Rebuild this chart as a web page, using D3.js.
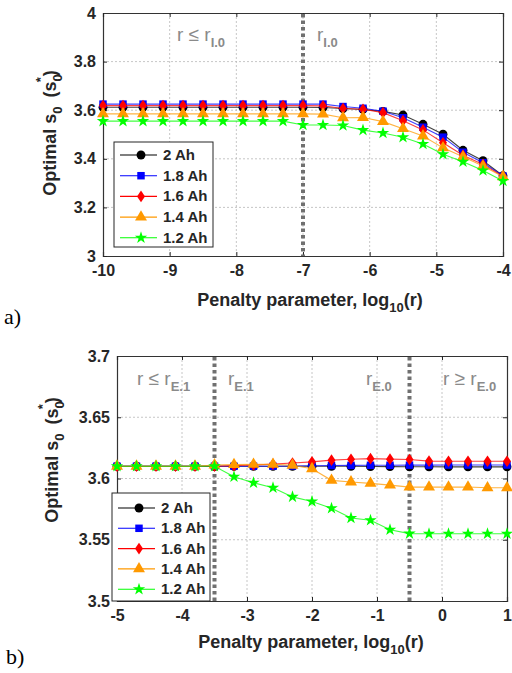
<!DOCTYPE html>
<html><head><meta charset="utf-8">
<script src="https://cdn.jsdelivr.net/npm/d3@7"></script>
<style>
body{margin:0;background:#fff;}
svg{display:block;font-family:"Liberation Sans",Arial,sans-serif;}
</style></head>
<body>
<svg id="c" width="512" height="673"></svg>
<script>
// ---------- DATA ----------
const seriesNames = ["2 Ah","1.8 Ah","1.6 Ah","1.4 Ah","1.2 Ah"];
const seriesColors = ["#000000","#0000ff","#ff0000","#ff9900","#00ff00"];

// Panel a: x = log10(r) from -10 to -4, step 0.3
const xA = [-10,-9.7,-9.4,-9.1,-8.8,-8.5,-8.2,-7.9,-7.6,-7.3,-7,-6.7,-6.4,-6.1,-5.8,-5.5,-5.2,-4.9,-4.6,-4.3,-4];
const a_2Ah  = [3.612,3.612,3.612,3.612,3.612,3.612,3.612,3.612,3.612,3.612,3.612,3.611,3.607,3.603,3.595,3.58,3.542,3.501,3.435,3.392,3.33];
const a_18Ah = [3.625,3.625,3.625,3.625,3.625,3.625,3.625,3.625,3.625,3.625,3.625,3.625,3.615,3.608,3.596,3.569,3.53,3.489,3.427,3.384,3.329];
const a_16Ah = [3.619,3.619,3.619,3.619,3.619,3.619,3.619,3.619,3.619,3.619,3.619,3.618,3.607,3.604,3.59,3.557,3.519,3.466,3.415,3.377,3.328];
const a_14Ah = [3.585,3.585,3.585,3.585,3.585,3.585,3.585,3.585,3.585,3.585,3.585,3.584,3.569,3.57,3.553,3.524,3.494,3.445,3.408,3.37,3.326];
const a_12Ah = [3.555,3.555,3.555,3.555,3.555,3.555,3.555,3.555,3.555,3.555,3.539,3.539,3.537,3.518,3.506,3.489,3.461,3.419,3.388,3.352,3.309];

// Panel b: x = log10(r) from -5 to 1, step 0.3
const xB = [-5,-4.7,-4.4,-4.1,-3.8,-3.5,-3.2,-2.9,-2.6,-2.3,-2,-1.7,-1.4,-1.1,-0.8,-0.5,-0.2,0.1,0.4,0.7,1];
const b_2Ah  = [3.61,3.61,3.61,3.61,3.61,3.61,3.61,3.61,3.61,3.61,3.61,3.61,3.61,3.6098,3.6097,3.6096,3.6096,3.6095,3.6095,3.6095,3.6095];
const b_18Ah = [3.61,3.61,3.61,3.61,3.61,3.61,3.61,3.61,3.61,3.6102,3.6104,3.6106,3.6107,3.6108,3.6108,3.6109,3.6109,3.611,3.611,3.611,3.611];
const b_16Ah = [3.61,3.61,3.61,3.61,3.61,3.61,3.6105,3.611,3.6117,3.6127,3.6136,3.615,3.6157,3.6162,3.6158,3.6155,3.6142,3.6141,3.6141,3.6141,3.6141];
const b_14Ah = [3.61,3.61,3.61,3.61,3.61,3.611,3.6113,3.6115,3.6116,3.6108,3.608,3.5985,3.5972,3.596,3.5946,3.593,3.593,3.593,3.593,3.5924,3.5924];
const b_12Ah = [3.61,3.61,3.61,3.61,3.61,3.61,3.6014,3.5965,3.5924,3.585,3.5812,3.5757,3.5678,3.5659,3.5582,3.555,3.5549,3.5549,3.5549,3.5549,3.5549];

const ticksXA = [-10,-9,-8,-7,-6,-5,-4];
const ticksYA = [3,3.2,3.4,3.6,3.8,4];
const tickLabelsXA = ["-10","-9","-8","-7","-6","-5","-4"];
const tickLabelsYA = ["3","3.2","3.4","3.6","3.8","4"];
const ticksXB = [-5,-4,-3,-2,-1,0,1];
const ticksYB = [3.5,3.55,3.6,3.65,3.7];
const tickLabelsXB = ["-5","-4","-3","-2","-1","0","1"];
const tickLabelsYB = ["3.5","3.55","3.6","3.65","3.7"];

const svg = d3.select("#c");
const markerTypes = ["circle","square","diamond","triangle","star"];

function markerPath(type){
  if(type==="circle") return d3.symbol(d3.symbolCircle, 62)();
  if(type==="square") return d3.symbol(d3.symbolSquare, 56)();
  if(type==="triangle") return d3.symbol(d3.symbolTriangle, 62)();
  if(type==="star") return d3.symbol(d3.symbolStar, 48)();
  if(type==="diamond") return "M0,-5.8L4,0L0,5.8L-4,0Z";
}

function panel(cfg){
  const g = svg.append("g");
  const x = d3.scaleLinear().domain(cfg.xDomain).range([cfg.left, cfg.right]);
  const y = d3.scaleLinear().domain(cfg.yDomain).range([cfg.bottom, cfg.top]);

  // grid
  g.append("g").selectAll("line.gx").data(cfg.xTicks.slice(1,-1)).join("line")
    .attr("x1",d=>x(d)).attr("x2",d=>x(d)).attr("y1",cfg.top).attr("y2",cfg.bottom)
    .attr("stroke","#b8b8b8").attr("stroke-width",0.8).attr("stroke-dasharray","2 2");
  g.append("g").selectAll("line.gy").data(cfg.yTicks.slice(1,-1)).join("line")
    .attr("y1",d=>y(d)).attr("y2",d=>y(d)).attr("x1",cfg.left).attr("x2",cfg.right)
    .attr("stroke","#b8b8b8").attr("stroke-width",0.8).attr("stroke-dasharray","2 2");

  // axes (ticks inside)
  const axB = d3.axisBottom(x).tickValues(cfg.xTicks).tickSize(-4).tickPadding(9).tickFormat((d,i)=>cfg.xLabels[i]);
  const axL = d3.axisLeft(y).tickValues(cfg.yTicks).tickSize(-4).tickPadding(7).tickFormat((d,i)=>cfg.yLabels[i]);
  const axT = d3.axisTop(x).tickValues(cfg.xTicks).tickSize(-4).tickFormat("");
  const axR = d3.axisRight(y).tickValues(cfg.yTicks).tickSize(-4).tickFormat("");
  [[axB,`translate(0,${cfg.bottom})`],[axL,`translate(${cfg.left},0)`],[axT,`translate(0,${cfg.top})`],[axR,`translate(${cfg.right},0)`]].forEach(([ax,t])=>{
    const a = g.append("g").attr("transform",t).call(ax);
    a.selectAll("path,line").attr("stroke","#262626");
    a.select("path.domain").attr("stroke","#333").attr("stroke-width",1.2);
    a.selectAll("text").attr("fill","#262626").attr("font-size","16px").attr("font-weight","bold")
      .attr("font-family","'Liberation Sans',Arial,sans-serif");
  });

  // region divider lines
  cfg.vlines.forEach(v=>{
    g.append("line").attr("x1",x(v)).attr("x2",x(v)).attr("y1",cfg.top+1).attr("y2",cfg.bottom)
      .attr("stroke","#707070").attr("stroke-width",4).attr("stroke-dasharray","3.5 3");
  });

  // region labels
  cfg.regionLabels.forEach(r=>{
    const t = g.append("text").attr("x",r.x).attr("y",r.y).attr("fill","#8a8a8a")
      .attr("font-size","19px");
    t.append("tspan").text(r.main);
    t.append("tspan").attr("dy",6).attr("font-size","13px").attr("font-weight","bold").text(r.sub);
  });

  // series
  const line = d3.line().x(d=>x(d[0])).y(d=>y(d[1]));
  cfg.series.forEach((vals,i)=>{
    const pts = cfg.xs.map((xv,j)=>[xv,vals[j]]);
    g.append("path").datum(pts).attr("d",line).attr("fill","none")
      .attr("stroke",seriesColors[i]).attr("stroke-width",1.1).attr("stroke-opacity",0.75);
    g.append("g").selectAll("path").data(pts).join("path")
      .attr("transform",d=>`translate(${x(d[0])},${y(d[1])})`)
      .attr("d",markerPath(markerTypes[i])).attr("fill",seriesColors[i]);
  });

  // axis titles
  const xt = g.append("text").attr("x",cfg.xTitleX).attr("y",cfg.xTitleY)
    .attr("text-anchor","middle").attr("fill","#262626").attr("font-size","18px").attr("font-weight","bold");
  xt.append("tspan").text("Penalty parameter, log");
  xt.append("tspan").attr("dy",6).attr("font-size","13px").text("10");
  xt.append("tspan").attr("dy",-6).text("(r)");

  const yt = g.append("text").attr("transform",`translate(${cfg.yTitleX},${cfg.yTitleY}) rotate(-90)`)
    .attr("text-anchor","middle").attr("fill","#262626").attr("font-size","18px").attr("font-weight","bold");
  yt.append("tspan").text("Optimal s");
  yt.append("tspan").attr("dy",6).attr("font-size","13px").text("0");
  yt.append("tspan").attr("dy",-6).attr("dx",9).text("(s");
  yt.append("tspan").attr("dy",6).attr("font-size","13px").text("0");
  yt.append("tspan").attr("dy",-17).attr("dx",-8).attr("font-size","13px").text("*");
  yt.append("tspan").attr("dy",11).attr("dx",1).text(")");

  // legend
  const L = cfg.legend;
  const lg = g.append("g");
  lg.append("rect").attr("x",L.x).attr("y",L.y).attr("width",L.w).attr("height",L.h)
    .attr("fill","#fff").attr("stroke","#262626").attr("stroke-width",1);
  seriesNames.forEach((n,i)=>{
    const yy = L.y + L.first + i*L.step;
    lg.append("line").attr("x1",L.x+6).attr("x2",L.x+43).attr("y1",yy).attr("y2",yy)
      .attr("stroke",seriesColors[i]).attr("stroke-width",1.1);
    lg.append("path").attr("transform",`translate(${L.x+27},${yy})`).attr("d",markerPath(markerTypes[i])).attr("fill",seriesColors[i]);
    lg.append("text").attr("x",L.x+49).attr("y",yy+5).attr("fill","#262626")
      .attr("font-size","15px").attr("font-weight","bold").text(n);
  });

  // panel letter
  svg.append("text").attr("x",cfg.letterX).attr("y",cfg.letterY).attr("font-family","'Liberation Serif','Times New Roman',serif")
    .attr("font-size","22px").attr("fill","#000").text(cfg.letter);
}

panel({
  xDomain:[-10,-4], yDomain:[3,4], left:103, right:503, top:13, bottom:256,
  xTicks:ticksXA, yTicks:ticksYA, xLabels:tickLabelsXA, yLabels:tickLabelsYA,
  xs:xA, series:[a_2Ah,a_18Ah,a_16Ah,a_14Ah,a_12Ah],
  vlines:[-7],
  regionLabels:[{x:177,y:41,main:"r \u2264 r",sub:"I.0"},{x:317,y:41,main:"r",sub:"I.0"}],
  xTitleX:310, xTitleY:306, yTitleX:56, yTitleY:133,
  legend:{x:114,y:142,w:99,h:105,first:13,step:20.7},
  letter:"a)", letterX:4, letterY:324
});

panel({
  xDomain:[-5,1], yDomain:[3.5,3.7], left:117, right:507, top:356, bottom:601,
  xTicks:ticksXB, yTicks:ticksYB, xLabels:tickLabelsXB, yLabels:tickLabelsYB,
  xs:xB, series:[b_2Ah,b_18Ah,b_16Ah,b_14Ah,b_12Ah],
  vlines:[-3.5,-0.5],
  regionLabels:[{x:137,y:385,main:"r \u2264 r",sub:"E.1"},{x:228,y:385,main:"r",sub:"E.1"},
                {x:366,y:385,main:"r",sub:"E.0"},{x:443,y:385,main:"r \u2265 r",sub:"E.0"}],
  xTitleX:311, xTitleY:648, yTitleX:58, yTitleY:460,
  legend:{x:112,y:493,w:98,h:108,first:15,step:20.3},
  letter:"b)", letterX:6, letterY:664
});
</script>
</body></html>
